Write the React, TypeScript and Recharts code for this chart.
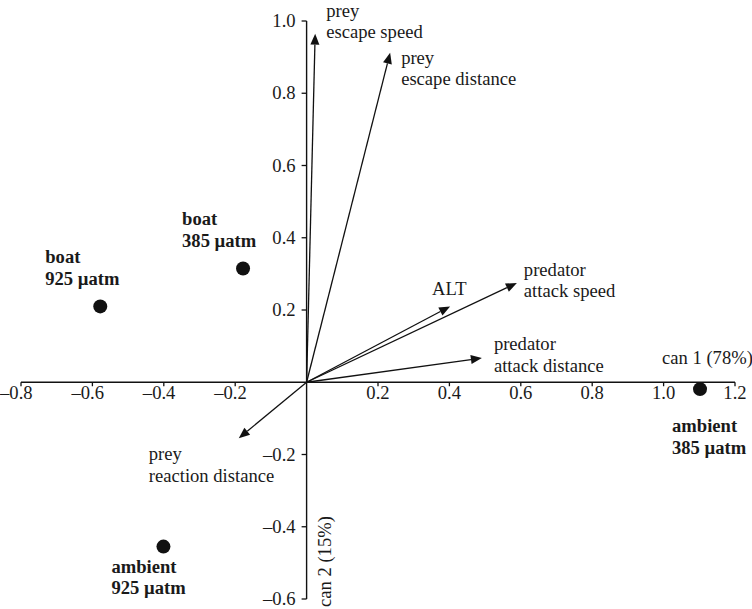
import React from 'react';
import { ScatterChart, Scatter, XAxis, YAxis, ReferenceLine, ReferenceDot } from 'recharts';

// ---- data ----
const xTicks = [-0.8, -0.6, -0.4, -0.2, 0.2, 0.4, 0.6, 0.8, 1.0, 1.2];
const yTicks = [1.0, 0.8, 0.6, 0.4, 0.2, -0.2, -0.4, -0.6];

const groupTreatment = ['boat', 'boat', 'ambient', 'ambient'];
const groupCO2 = ['925 µatm', '385 µatm', '925 µatm', '385 µatm'];
const groupCan1 = [-0.578, -0.178, -0.401, 1.102];
const groupCan2 = [0.21, 0.315, -0.455, -0.019];

const vectorLine1 = ['prey', 'prey', 'ALT', 'predator', 'predator', 'prey'];
const vectorLine2 = ['escape speed', 'escape distance', '', 'attack speed', 'attack distance', 'reaction distance'];
const vectorCan1 = [0.024, 0.234, 0.402, 0.589, 0.491, -0.19];
const vectorCan2 = [0.965, 0.912, 0.21, 0.275, 0.067, -0.155];

const xTitle = 'can 1 (78%)';
const yTitle = 'can 2 (15%)';

// ---- layout / style ----
const FONT = '"Liberation Serif", "Times New Roman", serif';
const FS = 18.6;
const INK = '#1a1a1a';
const TS = { fontFamily: FONT, fontSize: FS, fill: INK } as React.CSSProperties;
const TSB = { ...TS, fontWeight: 'bold' } as React.CSSProperties;
const groupLabelOffsets = [[-55, -43], [-61, -43], [-52, 26], [-28, 43]];
const vectorLabelOffsets = [[11, -17], [11, 11], [-18, -11], [7, -7], [12, -8], [-90, 22]];
const LH = 21.5;

const groups = groupCan1.map((x, i) => ({ x, y: groupCan2[i], a: groupTreatment[i], b: groupCO2[i], i }));
const vectors = vectorCan1.map((x, i) => ({ x, y: vectorCan2[i], i }));

const fmt = (v: number) => {
  const s = Math.abs(v).toFixed(1);
  return v < 0 ? '\u2013' + s : s;
};

const GroupShape = (props: any) => {
  const { cx, cy, payload } = props;
  const [dx, dy] = groupLabelOffsets[payload.i];
  return (
    <g>
      <circle cx={cx} cy={cy} r={7} fill="#111" />
      <text x={cx + dx} y={cy + dy} style={TSB}>{payload.a}</text>
      <text x={cx + dx} y={cy + dy + LH} style={TSB}>{payload.b}</text>
    </g>
  );
};

const makeArrow = (i: number) => (props: any) => {
  const { x1, y1, x2, y2 } = props;
  const ddx = x2 - x1;
  const ddy = y2 - y1;
  const len = Math.sqrt(ddx * ddx + ddy * ddy) || 1;
  const ux = ddx / len;
  const uy = ddy / len;
  const L = 11;
  const W = 4.5;
  const bx = x2 - ux * L;
  const by = y2 - uy * L;
  const nx = -uy;
  const ny = ux;
  const [ox, oy] = vectorLabelOffsets[i];
  return (
    <g>
      <line x1={x1} y1={y1} x2={bx} y2={by} stroke="#111" strokeWidth={1.3} />
      <polygon points={`${x2},${y2} ${bx + nx * W},${by + ny * W} ${bx - nx * W},${by - ny * W}`} fill="#111" />
      <text x={x2 + ox} y={y2 + oy} style={TS}>{vectorLine1[i]}</text>
      {vectorLine2[i] ? (
        <text x={x2 + ox} y={y2 + oy + LH} style={TS}>{vectorLine2[i]}</text>
      ) : null}
    </g>
  );
};

const XTick = (v: number) => (props: any) => {
  const { cx, cy } = props;
  return (
    <g>
      <line x1={cx} y1={cy} x2={cx} y2={cy + 4} stroke="#111" strokeWidth={1.3} />
      <text x={cx + 11.6} y={cy + 16.5} textAnchor="end" style={TS}>{fmt(v)}</text>
    </g>
  );
};

const YTick = (v: number) => (props: any) => {
  const { cx, cy } = props;
  return (
    <g>
      <line x1={cx} y1={cy} x2={cx - 5} y2={cy} stroke="#111" strokeWidth={1.3} />
      <text x={cx - 11} y={cy + 6} textAnchor="end" style={TS}>{fmt(v)}</text>
    </g>
  );
};

const XTitleShape = (props: any) => {
  const { cx, cy } = props;
  return (
    <text x={cx - 73} y={cy - 18} style={TS}>{xTitle}</text>
  );
};

const YTitleShape = (props: any) => {
  const { cx, cy } = props;
  return (
    <text transform={`translate(${cx + 24},${cy + 8}) rotate(-90)`} style={TS}>{yTitle}</text>
  );
};

export default function App() {
  return (
    <div style={{ position: 'absolute', left: 0, top: 0, background: '#fff' }}>
      <ScatterChart width={752} height={609} margin={{ top: 21, right: 17, bottom: 10, left: 21 }}>
        <XAxis type="number" dataKey="x" domain={[-0.8, 1.2]} hide />
        <YAxis type="number" dataKey="y" domain={[-0.6, 1.0]} hide />
        <ReferenceLine segment={[{ x: -0.8, y: 0 }, { x: 1.2, y: 0 }]} stroke="#111" strokeWidth={1.4} ifOverflow="visible" />
        <ReferenceLine segment={[{ x: 0, y: -0.6 }, { x: 0, y: 1.0 }]} stroke="#111" strokeWidth={1.4} ifOverflow="visible" />
        {xTicks.map((v) => (
          <ReferenceDot key={'xt' + v} x={v} y={0} r={1} ifOverflow="visible" shape={XTick(v)} />
        ))}
        {yTicks.map((v) => (
          <ReferenceDot key={'yt' + v} x={0} y={v} r={1} ifOverflow="visible" shape={YTick(v)} />
        ))}
        <ReferenceDot x={1.2} y={0} r={1} ifOverflow="visible" shape={XTitleShape} />
        <ReferenceDot x={0} y={-0.6} r={1} ifOverflow="visible" shape={YTitleShape} />
        {vectors.map((v) => (
          <ReferenceLine key={'v' + v.i} segment={[{ x: 0, y: 0 }, { x: v.x, y: v.y }]} ifOverflow="visible" shape={makeArrow(v.i)} />
        ))}
        <Scatter data={groups} shape={GroupShape} isAnimationActive={false} />
      </ScatterChart>
    </div>
  );
}
